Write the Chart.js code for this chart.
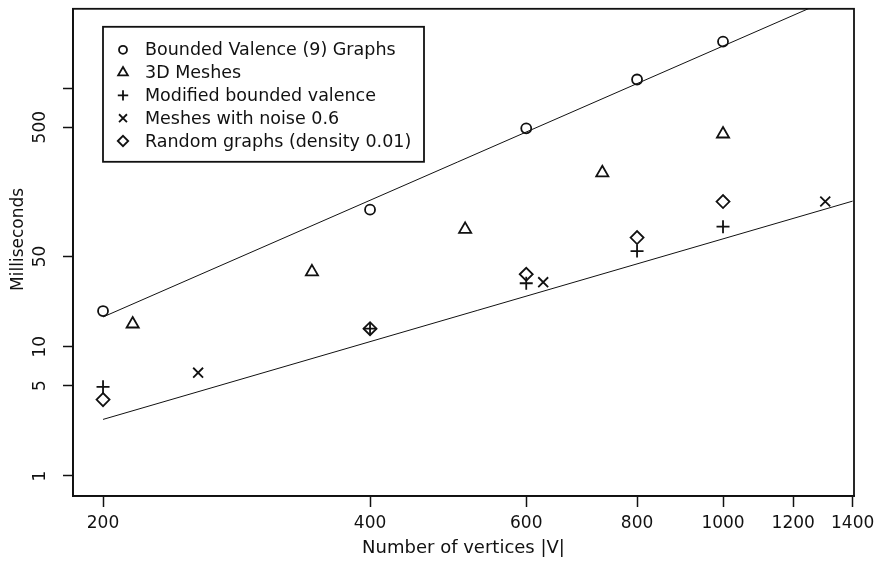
<!DOCTYPE html>
<html>
<head>
<meta charset="utf-8">
<script src="https://cdn.jsdelivr.net/npm/chart.js@4/dist/chart.umd.min.js"></script>
<style>
  html, body { margin: 0; padding: 0; background: #fff; }
  #wrap { width: 875px; height: 562px; position: relative; }
</style>
</head>
<body>
<div id="wrap"><canvas id="chart"></canvas></div>
<script>
// values (log-log plot)
const boundedX = [200, 400, 600, 800, 1000];
const boundedY = [18.9, 115, 490, 1170, 2300];
const meshX = [216, 344, 512, 731, 1000];
const meshY = [15, 38, 81, 222, 443];
const modifiedX = [200, 400, 600, 800, 1000];
const modifiedY = [4.9, 13.8, 31, 55, 85];
const noiseX = [256, 627, 1304];
const noiseY = [6.3, 31.6, 133];
const randomX = [200, 400, 600, 800, 1000];
const randomY = [3.9, 13.8, 36.4, 70, 133];
const fitX = [200, 1400];
const upperFitY = [17, 5830];
const lowerFitY = [2.74, 134];

const xTicks = [200, 400, 600, 800, 1000, 1200, 1400];
const yTicks = [1, 5, 10, 50, 500, 1000];
const yTickLabels = ['1', '5', '10', '50', '500', ''];

const FONT = 'DejaVu Sans';
const ink = '#111';

function pts(xs, ys) {
  return xs.map((x, i) => ({ x: x, y: ys[i] }));
}

function markers(label, xs, ys, style, radius) {
  return {
    label: label,
    data: pts(xs, ys),
    pointStyle: style,
    pointRadius: radius,
    pointBorderWidth: 1.8,
    pointBorderColor: ink,
    pointBackgroundColor: 'transparent',
    showLine: false,
  };
}

function fitLine(ys) {
  return {
    label: '',
    data: pts(fitX, ys),
    showLine: true,
    borderColor: ink,
    borderWidth: 1,
    pointRadius: 0,
    fill: false,
  };
}

const series = [
  markers('Bounded Valence (9) Graphs', boundedX, boundedY, 'circle', 5),
  markers('3D Meshes', meshX, meshY, 'triangle', 7),
  markers('Modified bounded valence', modifiedX, modifiedY, 'cross', 6.5),
  markers('Meshes with noise 0.6', noiseX, noiseY, 'crossRot', 7),
  markers('Random graphs (density 0.01)', randomX, randomY, 'rectRot', 6.5),
];

const frame = {
  id: 'frame',
  afterDraw(chart) {
    const { ctx, chartArea: a, scales } = chart;
    ctx.save();
    ctx.strokeStyle = ink;
    ctx.lineWidth = 1.8;
    ctx.strokeRect(a.left, a.top, a.right - a.left, a.bottom - a.top);

    // y tick labels and title, rotated like the original
    ctx.fillStyle = ink;
    ctx.font = '17px "' + FONT + '"';
    ctx.textAlign = 'center';
    ctx.textBaseline = 'middle';
    yTicks.forEach((v, i) => {
      const py = scales.y.getPixelForValue(v);
      ctx.save();
      ctx.translate(41, py);
      ctx.rotate(-Math.PI / 2);
      ctx.fillText(yTickLabels[i], 0, 0);
      ctx.restore();
    });
    ctx.save();
    ctx.translate(19, a.top + (a.bottom - a.top) / 2 - 13);
    ctx.rotate(-Math.PI / 2);
    ctx.fillText('Milliseconds', 0, 0);
    ctx.restore();

    // legend box
    const lx = a.left + 30, ly = a.top + 18, lw = 321, lh = 135;
    ctx.fillStyle = '#fff';
    ctx.fillRect(lx, ly, lw, lh);
    ctx.strokeRect(lx, ly, lw, lh);
    ctx.textAlign = 'left';
    ctx.font = '17.5px "' + FONT + '"';
    series.forEach((ds, i) => {
      const y = ly + 23 + i * 22.8;
      ctx.strokeStyle = ink;
      ctx.fillStyle = 'transparent';
      ctx.lineWidth = 1.8;
      Chart.helpers.drawPoint(ctx, {
        pointStyle: ds.pointStyle,
        radius: ds.pointRadius * 0.8,
        borderWidth: 1.8,
        rotation: 0,
      }, lx + 20, y);
      ctx.fillStyle = ink;
      ctx.fillText(ds.label, lx + 42, y + 1);
    });
    ctx.restore();
  },
};

new Chart(document.getElementById('chart'), {
  type: 'scatter',
  data: {
    datasets: series.concat([fitLine(upperFitY), fitLine(lowerFitY)]),
  },
  options: {
    responsive: true,
    maintainAspectRatio: false,
    animation: false,
    layout: { padding: { top: 5, right: 21, left: 0, bottom: 0 } },
    plugins: { legend: { display: false }, tooltip: { enabled: false } },
    scales: {
      x: {
        type: 'logarithmic',
        position: 'bottom',
        min: 185,
        max: 1405,
        afterBuildTicks: s => { s.ticks = xTicks.map(v => ({ value: v })); },
        afterFit: s => { s.height = 66; s.paddingLeft = 0; s.paddingRight = 0; },
        ticks: {
          autoSkip: false,
          maxRotation: 0,
          minRotation: 0,
          color: ink,
          padding: 6,
          font: { family: FONT, size: 17 },
          callback: v => String(v),
        },
        grid: { display: true, drawOnChartArea: false, drawTicks: true, tickLength: 11, tickColor: ink, tickWidth: 1.5 },
        border: { display: true, color: ink, width: 1.8 },
        title: {
          display: true,
          text: 'Number of vertices |V|',
          color: ink,
          font: { family: FONT, size: 18 },
          padding: { top: 0, bottom: 3 },
        },
      },
      y: {
        type: 'logarithmic',
        position: 'left',
        min: 0.727,
        max: 4124,
        afterBuildTicks: s => { s.ticks = yTicks.map(v => ({ value: v })); },
        afterFit: s => { s.width = 73; s.paddingTop = 0; s.paddingBottom = 0; },
        ticks: { display: false },
        grid: { display: true, drawOnChartArea: false, drawTicks: true, tickLength: 10, tickColor: ink, tickWidth: 1.5 },
        border: { display: true, color: ink, width: 1.8 },
      },
    },
  },
  plugins: [frame],
});
</script>
</body>
</html>
